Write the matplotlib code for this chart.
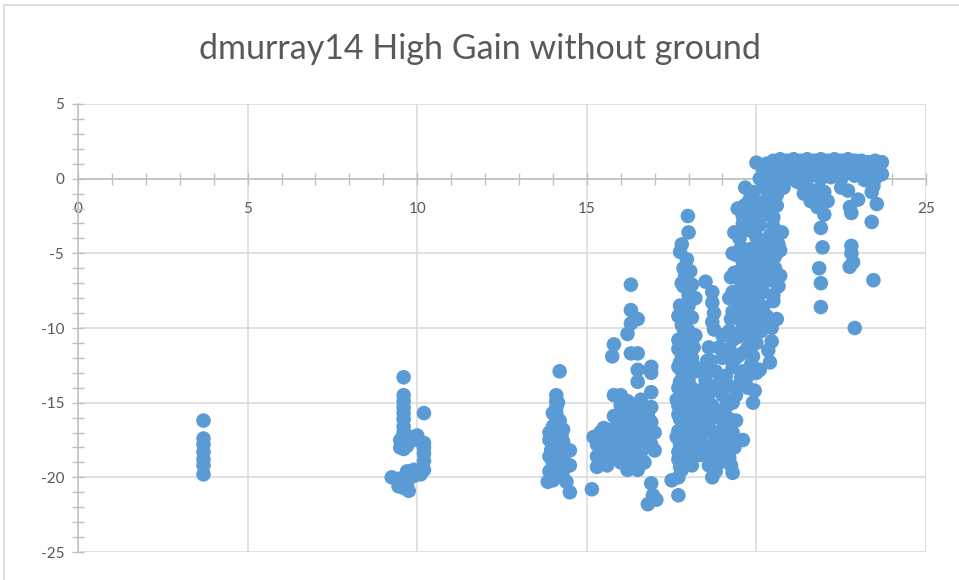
import matplotlib
matplotlib.use("Agg")
import matplotlib.pyplot as plt
from matplotlib.patches import Rectangle
from matplotlib.ticker import MultipleLocator

title = "dmurray14 High Gain without ground"

# cluster near x = 3.7
a_x = [3.7, 3.7, 3.7, 3.7, 3.7, 3.7, 3.7]
a_y = [-16.2, -17.4, -17.8, -18.3, -18.8, -19.2, -19.8]

# cluster near x = 9.5 - 10.2
b_x = [9.6, 9.6, 9.6, 9.6, 9.6, 9.6, 9.6, 9.6, 9.6, 9.6, 9.6, 9.5, 9.5, 9.7, 9.7,
       10.2, 10.0, 10.0, 10.2, 10.2, 10.2, 10.2, 10.2, 10.1, 9.9, 9.9, 9.7, 9.7, 9.7,
       9.25, 9.45, 9.45, 9.6, 9.6, 9.75]
b_y = [-13.3, -14.5, -14.9, -15.3, -15.7, -16.1, -16.6, -17.0, -17.4, -17.8, -18.1,
       -17.5, -18.0, -17.2, -17.9, -15.7, -17.2, -17.5, -17.7, -18.0, -18.4, -18.9,
       -19.5, -19.8, -19.5, -19.9, -19.6, -20.0, -20.4, -20.0, -20.1, -20.6, -20.7,
       -20.3, -20.9]

# cluster near x = 14
c_x = [14.2, 14.1, 14.1, 14.1, 14.1, 14.1, 14.1, 14.1, 14.1, 14.1, 14.1, 14.1, 14.1,
       14.0, 14.0, 14.0, 14.0, 14.0, 14.0, 14.0, 14.0, 13.9, 13.9, 13.9, 13.9,
       14.3, 14.3, 14.3, 14.3, 14.3, 14.3, 14.5, 14.5, 14.4, 14.5, 13.85,
       14.15, 14.2, 14.0, 14.25, 13.95]
c_y = [-12.9, -14.5, -14.9, -15.3, -15.7, -16.1, -16.5, -16.9, -17.3, -17.7, -18.1,
       -18.5, -19.0, -16.6, -17.2, -17.8, -18.4, -19.0, -19.4, -19.8, -20.2,
       -17.0, -17.5, -18.6, -19.6, -16.8, -17.6, -18.0, -18.8, -19.5, -20.0,
       -18.2, -19.2, -20.3, -21.0, -20.3,
       -15.0, -16.2, -15.7, -17.2, -18.2]

# cluster x = 15 - 17
d_x = [15.15, 15.2, 15.3, 15.3, 15.4, 15.5, 15.6, 15.5, 15.7, 15.8, 15.8, 15.8, 15.9,
       16.0, 16.0, 16.0, 16.1, 16.1, 16.2, 16.2, 16.3, 16.3, 16.4, 16.4, 16.4, 16.5,
       16.5, 16.6, 16.6, 16.6, 16.7, 16.8, 16.8, 16.9, 16.9, 16.9, 17.0, 16.7, 15.6,
       16.2, 16.3, 16.3, 16.3, 16.5, 16.2, 16.3, 16.5, 15.8, 15.75, 16.9, 16.9, 16.5,
       17.0, 16.9, 16.95, 16.8, 17.05, 16.5,
       15.4, 15.6, 15.9, 16.1, 16.3, 16.6, 16.8, 15.5, 15.7, 16.0, 16.2, 16.45, 16.7,
       16.9, 15.3, 15.6, 16.0, 16.35, 16.65]
d_y = [-20.8, -17.3, -17.8, -19.3, -17.0, -18.4, -19.2, -16.7, -17.5, -14.5, -15.9,
       -18.0, -16.5, -14.5, -15.2, -17.2, -18.4, -16.0, -19.5, -17.8, -16.6, -15.3,
       -15.4, -17.5, -18.9, -16.2, -19.5, -14.8, -17.0, -18.3, -15.8, -17.4, -16.4,
       -14.3, -16.3, -15.3, -17.0, -19.0, -18.0, -14.9, -7.1, -8.8, -9.7, -9.4, -10.4,
       -11.7, -11.7, -11.1, -11.9, -12.6, -13.0, -13.6, -18.2, -20.4, -21.2, -21.8,
       -21.5, -12.8,
       -17.8, -16.8, -17.0, -16.6, -17.2, -15.6, -15.8, -19.0, -18.5, -18.0, -16.2,
       -16.9, -16.9, -17.8, -18.6, -17.7, -19.0, -18.2, -17.9]

# column near x = 17.9
e_x = [17.98, 18.0, 17.8, 17.95, 17.9, 17.85, 18.0, 17.75, 17.9, 18.1, 17.8, 18.0,
       17.7, 17.9, 18.15, 17.8, 18.0, 17.7, 17.95, 18.2, 17.75, 18.05, 17.8, 18.0,
       17.7, 17.95, 18.2, 17.75, 18.0, 17.7, 17.9, 18.1, 17.75, 17.7, 17.9, 18.1,
       17.7, 17.5, 17.7, 17.8, 18.2, 18.2, 17.85, 18.0, 17.7, 18.1, 17.65, 17.85,
       17.9, 18.1, 17.8, 18.15, 17.85, 17.9, 18.2,
       17.75, 18.05, 17.8, 18.1, 17.7, 18.0, 17.85, 18.1, 17.7, 17.95, 18.15, 17.75,
       18.0, 17.65, 17.9, 18.1, 17.7, 17.95, 17.8, 18.05, 17.7, 17.95, 18.1, 17.75]
e_y = [-2.5, -3.6, -4.4, -5.4, -6.5, -7.2, -7.8, -8.5, -8.9, -9.3, -9.8, -10.2,
       -10.8, -11.0, -11.3, -11.8, -12.2, -12.6, -13.0, -12.9, -13.6, -13.9, -14.4,
       -14.8, -15.2, -15.6, -15.4, -16.1, -16.5, -16.9, -17.2, -17.5, -17.8, -18.3,
       -18.7, -19.2, -20.0, -20.2, -21.2, -19.5, -10.5, -8.0, -6.0, -13.4, -14.0,
       -16.0, -17.3, -10.5, -9.5, -12.0, -12.9, -14.2, -15.0, -16.8, -18.0,
       -4.9, -6.2, -7.0, -7.1, -9.2, -8.5, -10.0, -10.8, -11.4, -11.6, -12.5, -12.3,
       -13.0, -14.8, -14.2, -15.0, -15.8, -16.2, -17.6, -17.0, -18.8, -18.2, -18.6,
       -19.3]

# cluster x = 18.3 - 19.6
f_x = [18.5, 18.7, 18.7, 18.75, 18.7, 18.75, 18.6, 18.9, 18.65, 18.4, 18.8, 18.5,
       18.9, 18.3, 18.6, 19.0, 18.4, 18.7, 19.1, 18.5, 18.9, 19.2, 18.3, 18.6, 19.0,
       18.4, 18.8, 19.3, 19.6, 18.5, 19.1, 18.7, 19.2, 18.35, 18.7, 19.3, 19.25,
       18.9, 19.4, 19.0, 18.2,
       18.45, 18.8, 19.15, 18.55, 18.95, 19.3, 18.35, 18.7, 19.05, 19.4, 18.5, 18.85,
       19.2, 18.4, 18.75, 19.1, 18.6, 19.0, 19.35, 18.8, 18.55]
f_y = [-6.9, -7.6, -8.3, -9.0, -9.6, -10.1, -11.3, -11.3, -12.2, -12.8, -12.9,
       -13.5, -13.7, -14.2, -14.4, -14.5, -15.0, -15.2, -15.3, -15.8, -16.0, -16.1,
       -16.4, -16.6, -16.8, -17.2, -17.3, -17.0, -17.5, -17.9, -18.0, -18.6, -18.7,
       -18.5, -20.0, -19.7, -19.2, -19.0, -16.2, -12.0, -15.6,
       -13.0, -14.0, -13.8, -14.8, -15.6, -15.0, -15.4, -16.0, -16.4, -17.6, -16.8,
       -17.8, -17.5, -17.7, -18.2, -18.4, -19.2, -18.9, -18.0, -19.6, -12.2]

# rising band x = 19.2 - 20.8
g_x = [19.67, 19.6, 19.8, 19.5, 19.7, 19.9, 19.4, 19.6, 19.85, 20.0, 19.35, 19.55,
       19.8, 20.0, 19.3, 19.5, 19.75, 20.0, 19.3, 19.55, 19.8, 20.05, 19.2, 19.45,
       19.7, 19.95, 19.2, 19.5, 19.75, 20.0, 19.3, 19.6, 19.85, 19.5, 19.75, 19.9,
       19.95, 19.1, 20.4, 20.45, 20.6, 20.3, 20.5, 20.2, 20.45, 20.2, 20.55, 20.3,
       20.75, 20.5, 20.3, 20.6, 20.4, 20.1, 20.8, 20.2, 19.9, 20.65, 20.35, 19.0,
       20.15, 20.7, 20.1, 19.4,
       19.45, 19.65, 19.9, 20.15, 20.35, 19.35, 19.6, 19.85, 20.1, 20.4, 19.3, 19.55,
       19.8, 20.05, 20.3, 19.25, 19.5, 19.75, 20.0, 20.25, 19.2, 19.45, 19.7, 19.95,
       20.2, 19.25, 19.5, 19.75, 20.0, 19.3, 19.55, 19.8, 19.4, 19.65, 19.9, 19.75,
       20.0, 19.55, 20.5, 20.6, 20.7, 20.55, 20.65, 20.4, 20.5, 20.35, 20.25, 20.45]
g_y = [-0.6, -2.5, -1.4, -4.0, -3.4, -2.7, -5.1, -5.6, -4.7, -3.9, -6.3, -6.9,
       -6.2, -5.5, -7.6, -8.2, -7.5, -7.0, -8.9, -9.5, -8.8, -8.3, -10.2, -10.6,
       -10.1, -9.9, -11.4, -11.8, -11.3, -11.0, -12.6, -12.9, -12.4, -13.8, -14.0,
       -15.0, -14.2, -13.2, -12.3, -10.9, -9.4, -9.2, -8.2, -7.6, -6.8, -5.6, -5.2,
       -4.5, -3.6, -3.2, -2.4, -1.8, -1.0, -1.6, -0.6, -0.3, -0.9, -4.4, -11.5,
       -10.5, -10.2, -6.5, -12.8, -14.5,
       -2.0, -1.8, -2.2, -2.0, -1.5, -3.6, -3.0, -3.5, -3.1, -3.8, -5.0, -4.6,
       -5.2, -4.8, -5.3, -6.6, -6.2, -6.8, -6.4, -6.9, -8.0, -7.6, -8.2, -7.8,
       -8.6, -9.4, -9.0, -9.6, -9.3, -10.8, -10.2, -10.7, -12.0, -11.6, -11.9,
       -13.2, -13.0, -13.3, -2.6, -4.0, -4.8, -6.0, -7.2, -3.9, -7.8, -6.3, -9.8,
       -10.0]

# plateau x = 20 - 23.7
h_x = [20.3, 20.5, 20.7, 20.9, 21.1, 21.3, 21.5, 21.7, 21.9, 22.1, 22.3, 22.5, 22.7,
       22.9, 23.1, 23.3, 23.5, 23.7,
       20.2, 20.45, 20.8, 21.0, 21.25, 21.5, 21.8, 22.0, 22.3, 22.6, 22.8, 23.0,
       23.3, 23.6,
       20.1, 20.4, 20.7, 21.0, 21.2, 21.6, 21.9, 22.2, 22.5, 22.9, 23.2, 23.5, 23.7,
       21.4, 21.6, 21.9, 21.8, 22.0, 21.9, 21.95, 21.85, 21.9, 21.9, 22.1, 20.3,
       20.6, 22.5, 22.76, 22.8, 23.0, 22.8, 22.8, 22.85, 22.75, 22.9, 23.45, 23.4,
       23.55, 23.4, 23.45, 21.4, 22.7, 20.0,
       20.4, 20.6, 20.8, 21.0, 21.2, 21.4, 21.6, 21.8, 22.0, 22.2, 22.4, 22.6, 22.8,
       23.0, 23.2, 23.4, 23.6, 20.25, 20.55, 20.9, 21.15, 21.45, 21.7, 22.05, 22.4,
       22.7, 23.1, 23.4, 20.3, 20.5, 20.7, 21.3, 21.5, 21.7, 22.0]
h_y = [1.0, 1.2, 1.3, 1.2, 1.3, 1.2, 1.3, 1.2, 1.3, 1.2, 1.3, 1.2, 1.3, 1.2, 1.2,
       1.1, 1.2, 1.1,
       0.5, 0.6, 0.7, 0.6, 0.8, 0.7, 0.6, 0.8, 0.7, 0.6, 0.8, 0.6, 0.7, 0.6,
       0.0, -0.1, 0.1, 0.0, -0.2, 0.2, 0.0, 0.1, 0.0, 0.2, -0.1, 0.0, 0.3,
       -1.0, -1.5, -1.2, -1.9, -2.4, -3.3, -4.6, -6.0, -7.0, -8.6, -1.5, -0.8,
       -1.1, -0.6, -1.9, -2.3, -1.4, -4.5, -5.0, -5.6, -5.9, -10.0, -6.8, -2.9,
       -1.7, -0.9, -0.5, -0.5, -0.8, 1.07,
       0.9, 1.0, 0.9, 1.0, 0.9, 1.0, 0.9, 1.0, 0.9, 1.0, 0.9, 1.0, 0.9, 1.0, 0.9,
       1.0, 0.9, 0.3, 0.3, 0.4, 0.3, 0.4, 0.3, 0.4, 0.3, 0.4, 0.3, 0.4, -0.5, -0.4,
       -0.6, -0.3, -0.6, -0.8, -0.9]

groups = [(a_x, a_y), (b_x, b_y), (c_x, c_y), (d_x, d_y),
          (e_x, e_y), (f_x, f_y), (g_x, g_y), (h_x, h_y)]

grey = '#595959'
plt.rcParams['font.family'] = ['Lato', 'DejaVu Sans']
plt.rcParams['axes.unicode_minus'] = False

fig = plt.figure(figsize=(9.59, 5.80), dpi=100)
ax = fig.add_axes([78 / 959, 1 - 552 / 580, 848 / 959, 448 / 580])

# light outer chart border
fig.patches.append(Rectangle((4 / 959, -0.05), 1.2, 1.05 - 5 / 580,
                             transform=fig.transFigure, fill=False,
                             edgecolor='#D9D9D9', linewidth=1.2))

for gx, gy in groups:
    ax.scatter(gx, gy, s=110, color='#5B9BD5', edgecolors='none', zorder=3)

ax.set_xlim(0, 25)
ax.set_ylim(-25, 5)
ax.xaxis.set_major_locator(MultipleLocator(5))
ax.xaxis.set_minor_locator(MultipleLocator(1))
ax.yaxis.set_major_locator(MultipleLocator(5))
ax.yaxis.set_minor_locator(MultipleLocator(1))

ax.grid(True, which='major', color='#D9D9D9', linewidth=1.1, zorder=0)
ax.set_axisbelow(True)

for s in ['top', 'right']:
    ax.spines[s].set_visible(False)
ax.spines['bottom'].set_position(('data', 0))
ax.spines['left'].set_position(('data', 0))
for s in ['bottom', 'left']:
    ax.spines[s].set_color('#BFBFBF')
    ax.spines[s].set_linewidth(1.1)

ax.tick_params(which='both', direction='inout', color='#BFBFBF', width=1.0)
ax.tick_params(which='major', length=8)
ax.tick_params(which='minor', length=8)
ax.tick_params(axis='x', which='major', pad=13, labelsize=11, labelcolor=grey)
ax.tick_params(axis='y', which='major', pad=6, labelsize=11, labelcolor=grey)

fig.text(0.5, 1 - 49 / 580, title, ha='center', va='center',
         fontsize=24.5, color=grey)

fig.savefig('out.png', dpi=100)
